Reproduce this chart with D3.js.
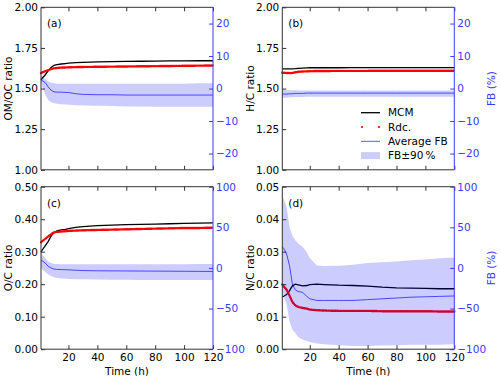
<!DOCTYPE html>
<html>
<head>
<meta charset="utf-8">
<title>ratio panels</title>
<script src="https://cdn.jsdelivr.net/npm/d3@7"></script>
<style>
  body { margin: 0; background: #fff; }
  svg { font-family: "DejaVu Sans", sans-serif; }
</style>
</head>
<body>
<script>
// time axis (h)
var time = [1, 2, 4, 6, 8, 10, 12, 15, 18, 20, 25, 30, 40, 50, 60, 70, 80, 90, 100, 110, 120];
var xTicks = [20, 40, 60, 80, 100, 120];

// (a) OM/OC
var omocMCM = [1.553, 1.565, 1.585, 1.610, 1.630, 1.643, 1.647, 1.651, 1.654, 1.656, 1.659, 1.661, 1.664, 1.666, 1.667, 1.668, 1.669, 1.670, 1.670, 1.671, 1.671];
var omocRdc = [1.595, 1.600, 1.607, 1.613, 1.620, 1.625, 1.627, 1.629, 1.630, 1.631, 1.632, 1.633, 1.634, 1.635, 1.636, 1.637, 1.638, 1.639, 1.640, 1.641, 1.642];
var omocFB = [2.7, 2.4, 1.8, 0.5, -0.5, -1.0, -1.1, -1.1, -1.2, -1.2, -1.6, -1.8, -1.9, -1.9, -2.0, -2.0, -2.0, -2.0, -2.0, -2.0, -2.0];
var omocHi = [4.0, 3.8, 3.0, 2.2, 1.8, 1.6, 1.5, 1.5, 1.5, 1.5, 1.5, 1.5, 1.5, 1.5, 1.5, 1.5, 1.5, 1.5, 1.5, 1.6, 1.6];
var omocLo = [1.8, 0.5, -2.0, -3.5, -4.2, -4.5, -4.7, -4.8, -4.9, -5.0, -5.1, -5.2, -5.3, -5.4, -5.5, -5.5, -5.6, -5.6, -5.6, -5.6, -5.6];

// (b) H/C
var hcMCM = [1.621, 1.621, 1.621, 1.621, 1.621, 1.622, 1.624, 1.626, 1.627, 1.628, 1.628, 1.628, 1.628, 1.629, 1.629, 1.629, 1.629, 1.629, 1.629, 1.629, 1.629];
var hcRdc = [1.598, 1.597, 1.596, 1.595, 1.596, 1.600, 1.603, 1.605, 1.606, 1.607, 1.608, 1.608, 1.609, 1.609, 1.609, 1.610, 1.610, 1.610, 1.610, 1.610, 1.610];
var hcFB = [-1.7, -1.7, -1.7, -1.6, -1.6, -1.5, -1.5, -1.5, -1.4, -1.4, -1.4, -1.4, -1.4, -1.4, -1.4, -1.4, -1.4, -1.4, -1.4, -1.4, -1.4];
var hcHi = [-0.4, -0.4, -0.5, -0.5, -0.5, -0.5, -0.6, -0.6, -0.6, -0.6, -0.6, -0.6, -0.6, -0.6, -0.6, -0.6, -0.6, -0.6, -0.6, -0.6, -0.6];
var hcLo = [-2.8, -2.8, -2.8, -2.7, -2.7, -2.6, -2.6, -2.6, -2.5, -2.5, -2.5, -2.5, -2.5, -2.5, -2.5, -2.5, -2.5, -2.5, -2.5, -2.5, -2.5];

// (c) O/C
var ocMCM = [0.299, 0.306, 0.319, 0.332, 0.348, 0.360, 0.364, 0.367, 0.369, 0.371, 0.375, 0.377, 0.380, 0.382, 0.383, 0.384, 0.385, 0.386, 0.387, 0.388, 0.389];
var ocRdc = [0.329, 0.333, 0.340, 0.347, 0.354, 0.359, 0.361, 0.362, 0.363, 0.364, 0.365, 0.366, 0.367, 0.368, 0.369, 0.370, 0.371, 0.372, 0.373, 0.373, 0.374];
var ocFB = [9.0, 8.5, 6.0, 2.0, 0.0, -1.4, -1.8, -2.0, -2.2, -2.3, -2.8, -3.2, -3.5, -3.6, -3.7, -3.8, -3.9, -4.0, -4.1, -4.2, -4.3];
var ocHi = [18, 16, 12, 8, 6, 5, 4.8, 4.6, 4.5, 4.5, 4.5, 4.5, 4.5, 4.5, 4.5, 4.5, 4.5, 4.6, 4.7, 4.8, 5.0];
var ocLo = [0, -2, -5, -8, -10, -11.5, -12.5, -13, -13.3, -13.5, -13.8, -14, -14.3, -14.5, -14.6, -14.7, -14.7, -14.7, -14.7, -14.7, -14.7];

// (d) N/C
var ncMCM = [0.0161, 0.0163, 0.0168, 0.0180, 0.0195, 0.0200, 0.0198, 0.0195, 0.0196, 0.0199, 0.0200, 0.0199, 0.0197, 0.0196, 0.0194, 0.0191, 0.0189, 0.0188, 0.0187, 0.0186, 0.0186];
var ncRdc = [0.0199, 0.0193, 0.0183, 0.0165, 0.0145, 0.0135, 0.0130, 0.0127, 0.0125, 0.0122, 0.0120, 0.0119, 0.0118, 0.0118, 0.0118, 0.0117, 0.0117, 0.0117, 0.0117, 0.0116, 0.0116];
var ncFB = [26, 24, 17, 3, -20, -27, -29, -30, -35, -38, -40, -40, -40, -40, -39, -38, -37, -36, -35.5, -35, -34.5];
var ncHi = [88, 85, 75, 50, 40, 34, 30, 26, 19, 12, 3, 2.5, 2.7, 4, 6, 7, 8, 9.5, 10.5, 12, 13];
var ncLo = [-28, -35, -45, -66, -76, -80, -85, -88, -90, -91, -93, -94, -95, -96, -96, -95.5, -95, -94.5, -94.5, -94.5, -94];

var legendNames = ["MCM", "Rdc.", "Average FB", "FB\u00b190\u2009%"];

var panels = [
    { tag: "(a)", ylabel: "OM/OC ratio", left: 41, top: 7.3, yDom: [1, 2], yTicks: [1, 1.25, 1.5, 1.75, 2],
      fbDom: [-25, 25], fbTicks: [-20, -10, 0, 10, 20], mcm: omocMCM, rdc: omocRdc, fb: omocFB, hi: omocHi, lo: omocLo },
    { tag: "(b)", ylabel: "H/C ratio", left: 282.3, top: 7.3, yDom: [1, 2], yTicks: [1, 1.25, 1.5, 1.75, 2],
      fbDom: [-25, 25], fbTicks: [-20, -10, 0, 10, 20], mcm: hcMCM, rdc: hcRdc, fb: hcFB, hi: hcHi, lo: hcLo, fbLabel: true, legend: true },
    { tag: "(c)", ylabel: "O/C ratio", left: 41, top: 186.7, yDom: [0, 0.5], yTicks: [0, 0.1, 0.2, 0.3, 0.4, 0.5],
      fbDom: [-100, 100], fbTicks: [-100, -50, 0, 50, 100], mcm: ocMCM, rdc: ocRdc, fb: ocFB, hi: ocHi, lo: ocLo, xlab: true },
    { tag: "(d)", ylabel: "N/C ratio", left: 282.3, top: 186.7, yDom: [0, 0.05], yTicks: [0, 0.01, 0.02, 0.03, 0.04, 0.05],
      fbDom: [-100, 100], fbTicks: [-100, -50, 0, 50, 100], mcm: ncMCM, rdc: ncRdc, fb: ncFB, hi: ncHi, lo: ncLo, xlab: true, fbLabel: true }
];

var W = 172, H = 162.5;
var blue = "#3a3aff";
var fs = 10.5;

var svg = d3.select("body").append("svg")
    .attr("width", 500)
    .attr("height", 376);

panels.forEach(function (p) {
    var g = svg.append("g").attr("transform", `translate(${p.left},${p.top})`);
    var x = d3.scaleLinear().domain([1, 120]).range([0, W]);
    var y = d3.scaleLinear().domain(p.yDom).range([H, 0]);
    var yr = d3.scaleLinear().domain(p.fbDom).range([H, 0]);

    var line = d3.line().x((d, i) => x(time[i])).y(d => y(d));

    // model lines first, twin axis drawn on top
    g.append("path")
        .attr("d", line(p.mcm))
        .attr("fill", "none")
        .attr("stroke", "#000")
        .attr("stroke-width", 1.3);

    g.append("path")
        .attr("d", line(p.rdc))
        .attr("fill", "none")
        .attr("stroke", "red")
        .attr("stroke-width", 2.4)
        .attr("stroke-linecap", "round")
        .attr("stroke-dasharray", "0.1 1.4");

    var area = d3.area()
        .x((d, i) => x(time[i]))
        .y0((d, i) => yr(p.lo[i]))
        .y1(d => yr(d));
    g.append("path")
        .attr("d", area(p.hi))
        .attr("fill", "blue")
        .attr("fill-opacity", 0.2);

    g.append("path")
        .attr("d", d3.line().x((d, i) => x(time[i])).y(d => yr(d))(p.fb))
        .attr("fill", "none")
        .attr("stroke", "blue")
        .attr("stroke-opacity", 0.65)
        .attr("stroke-width", 1);

    // axes, ticks pointing in
    var xb = g.append("g").attr("transform", `translate(0,${H})`)
        .call(d3.axisBottom(x).tickValues(xTicks).tickSize(-4).tickPadding(4));
    if (!p.xlab) xb.selectAll("text").remove();
    g.append("g").call(d3.axisTop(x).tickValues(xTicks).tickSize(-4)).selectAll("text").remove();

    g.append("g")
        .call(d3.axisLeft(y).tickValues(p.yTicks).tickFormat(d3.format(".2f")).tickSize(-4).tickPadding(3));

    var ra = g.append("g").attr("transform", `translate(${W},0)`)
        .call(d3.axisRight(yr).tickValues(p.fbTicks).tickSize(-4).tickPadding(3));
    ra.selectAll("line").attr("stroke", blue);
    ra.selectAll("text").attr("fill", blue);

    g.selectAll(".domain").remove();
    g.selectAll(".tick line").filter(function () { return d3.select(this).attr("stroke") !== blue; })
        .attr("stroke", "#333");
    g.selectAll(".tick text").attr("font-size", fs).attr("font-family", "DejaVu Sans");

    // spines
    g.append("path")
        .attr("d", `M${W},0H0V${H}H${W}`)
        .attr("fill", "none")
        .attr("stroke", "#333")
        .attr("stroke-width", 1);
    g.append("line")
        .attr("x1", W).attr("x2", W).attr("y1", 0).attr("y2", H)
        .attr("stroke", blue)
        .attr("stroke-width", 1);

    g.append("text")
        .attr("x", 6).attr("y", 20)
        .attr("font-size", fs)
        .text(p.tag);

    g.append("text")
        .attr("transform", `translate(${-p.left + (p.left < 100 ? 8.5 : 250.5)},${H / 2}) rotate(-90)`)
        .attr("text-anchor", "middle")
        .attr("dy", "0.35em")
        .attr("font-size", fs)
        .text(p.ylabel);

    if (p.fbLabel) {
        g.append("text")
            .attr("transform", `translate(${W + 37},${H / 2}) rotate(-90)`)
            .attr("text-anchor", "middle")
            .attr("dy", "0.35em")
            .attr("font-size", fs)
            .attr("fill", blue)
            .text("FB (%)");
    }

    if (p.xlab) {
        g.append("text")
            .attr("x", W / 2).attr("y", H + 26)
            .attr("text-anchor", "middle")
            .attr("font-size", fs)
            .text("Time (h)");
    }

    if (p.legend) {
        var lg = g.append("g").attr("transform", `translate(${361 - p.left},${112.7 - p.top})`);
        legendNames.forEach(function (name, i) {
            var row = lg.append("g").attr("transform", `translate(0,${i * 14.3})`);
            if (i === 0) {
                row.append("line").attr("x1", 0).attr("x2", 19).attr("stroke", "#000").attr("stroke-width", 1.3);
            } else if (i === 1) {
                row.selectAll("circle").data([1, 18]).join("circle")
                    .attr("cx", d => d).attr("r", 1.1).attr("fill", "red");
            } else if (i === 2) {
                row.append("line").attr("x1", 0).attr("x2", 19).attr("stroke", "blue").attr("stroke-opacity", 0.65);
            } else {
                row.append("rect").attr("x", 0).attr("y", -3.5).attr("width", 19).attr("height", 7)
                    .attr("fill", "blue").attr("fill-opacity", 0.2);
            }
            row.append("text")
                .attr("x", 27).attr("dy", "0.35em")
                .attr("font-size", fs)
                .text(name);
        });
    }
});
</script>
</body>
</html>
